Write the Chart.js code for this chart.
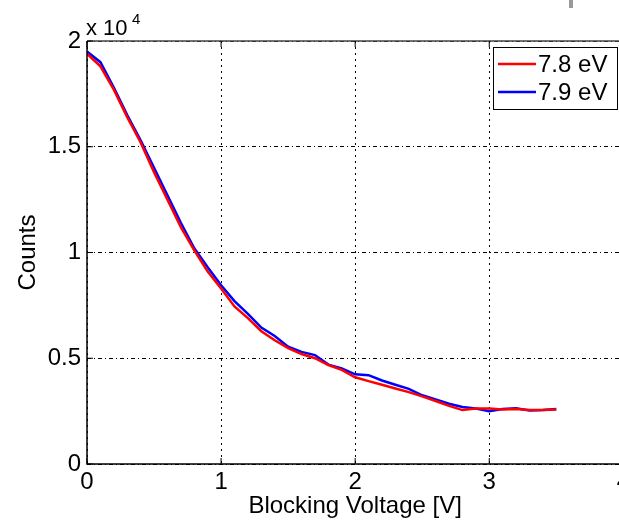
<!DOCTYPE html>
<html>
<head>
<meta charset="utf-8">
<script src="https://cdn.jsdelivr.net/npm/chart.js@4.4.1/dist/chart.umd.min.js"></script>
<style>
html, body { margin: 0; padding: 0; overflow: hidden; background: #fff; }
#wrap { position: relative; width: 634px; height: 521px; }
</style>
</head>
<body>
<div id="wrap"><canvas id="c" width="634" height="521"></canvas></div>
<script>
// blocking voltage [V]
const volts = [0, 0.1, 0.2, 0.3, 0.4, 0.5, 0.6, 0.7, 0.8, 0.9, 1.0, 1.1, 1.2, 1.3, 1.4, 1.5, 1.6, 1.7,
    1.8, 1.9, 2.0, 2.1, 2.2, 2.3, 2.4, 2.5, 2.6, 2.7, 2.8, 2.9, 3.0, 3.1, 3.2, 3.3, 3.4, 3.5];
const counts78 = [19400, 18800, 17700, 16400, 15200, 13800, 12500, 11200, 10100, 9100, 8300, 7450, 6900,
    6280, 5850, 5480, 5200, 5000, 4680, 4450, 4100, 3920, 3750, 3570, 3400, 3200, 2980, 2750, 2550,
    2620, 2620, 2580, 2600, 2550, 2550, 2580];
const counts79 = [19500, 19000, 17800, 16500, 15300, 14000, 12700, 11400, 10200, 9300, 8450, 7700, 7100,
    6450, 6050, 5550, 5300, 5150, 4700, 4520, 4240, 4200, 3950, 3750, 3550, 3250, 3050, 2850, 2700,
    2620, 2500, 2600, 2630, 2530, 2550, 2600];
const labels = ['7.8 eV', '7.9 eV'];
const colors = ['#ff0000', '#0000ff'];
const xTicks = [0, 1, 2, 3, 4];
const yTicks = [0, 5000, 10000, 15000, 20000];

const FONT = '"Liberation Sans", Arial, Helvetica, sans-serif';

const pts = arr => volts.map((v, i) => ({ x: v, y: arr[i] }));

const matlabAxes = {
    id: 'matlabAxes',
    afterDraw(chart) {
        const ctx = chart.ctx;
        const a = chart.chartArea;
        const xs = chart.scales.x, ys = chart.scales.y;
        ctx.save();
        // frame
        ctx.strokeStyle = '#000';
        ctx.lineWidth = 1.5;
        ctx.beginPath();
        ctx.moveTo(a.left, a.top);
        ctx.lineTo(a.left, a.bottom);
        ctx.lineTo(a.right, a.bottom);
        ctx.stroke();
        ctx.strokeStyle = '#444';
        ctx.beginPath();
        ctx.moveTo(a.left, a.top);
        ctx.lineTo(a.right, a.top);
        ctx.stroke();
        // inward ticks
        ctx.strokeStyle = '#000';
        ctx.lineWidth = 1;
        xTicks.forEach(t => {
            const px = xs.getPixelForValue(t);
            ctx.beginPath();
            ctx.moveTo(px, a.bottom); ctx.lineTo(px, a.bottom - 6);
            ctx.moveTo(px, a.top); ctx.lineTo(px, a.top + 6);
            ctx.stroke();
        });
        yTicks.forEach(t => {
            const py = ys.getPixelForValue(t);
            ctx.beginPath();
            ctx.moveTo(a.left, py); ctx.lineTo(a.left + 6, py);
            ctx.stroke();
        });
        // exponent label
        ctx.fillStyle = '#000';
        ctx.textBaseline = 'alphabetic';
        ctx.textAlign = 'left';
        ctx.font = '22px ' + FONT;
        ctx.fillText('x 10', 86, 35);
        ctx.font = '15px ' + FONT;
        ctx.fillText('4', 132, 24);
        // legend box
        const bx = 493, by = 47, bw = 124, bh = 62;
        ctx.fillStyle = '#fff';
        ctx.fillRect(bx, by, bw, bh);
        ctx.strokeStyle = '#000';
        ctx.lineWidth = 1;
        ctx.strokeRect(bx + 0.5, by + 0.5, bw, bh);
        ctx.font = '24px ' + FONT;
        ctx.textBaseline = 'middle';
        chart.data.datasets.forEach((ds, i) => {
            const ly = by + 17 + i * 28;
            ctx.strokeStyle = ds.borderColor;
            ctx.lineWidth = 2.5;
            ctx.beginPath();
            ctx.moveTo(498, ly); ctx.lineTo(536, ly);
            ctx.stroke();
            ctx.fillStyle = '#000';
            ctx.fillText(ds.label, 538, ly + 1);
        });
        // stray mark at top right
        ctx.fillStyle = '#9a9a9a';
        ctx.fillRect(569, 0, 4, 8);
        ctx.restore();
    }
};

new Chart(document.getElementById('c'), {
    type: 'line',
    data: {
        datasets: [
            { label: labels[0], data: pts(counts78), borderColor: colors[0], borderWidth: 2.5, pointRadius: 0, tension: 0 },
            { label: labels[1], data: pts(counts79), borderColor: colors[1], borderWidth: 2.5, pointRadius: 0, tension: 0 }
        ]
    },
    options: {
        responsive: false,
        animation: false,
        layout: { padding: { top: 41, right: 0, left: 0, bottom: 0 } },
        plugins: { legend: { display: false }, tooltip: { enabled: false } },
        scales: {
            x: {
                type: 'linear', min: 0, max: 4,
                afterBuildTicks: s => { s.ticks = xTicks.map(v => ({ value: v })); },
                afterFit: s => { s.height = 57; },
                ticks: { color: '#000', font: { size: 24, family: FONT }, padding: 4, maxRotation: 0, callback: v => v },
                grid: { color: '#000', lineWidth: 1, drawTicks: false },
                border: { display: false, dash: [2, 4] },
                title: { display: true, text: 'Blocking Voltage [V]', color: '#000', font: { size: 24, family: FONT }, padding: { top: 0, bottom: 0 } }
            },
            y: {
                type: 'linear', min: 0, max: 20000,
                afterBuildTicks: s => { s.ticks = yTicks.map(v => ({ value: v })); },
                afterFit: s => { s.width = 87; },
                ticks: { color: '#000', font: { size: 24, family: FONT }, padding: 6, callback: v => v / 10000 },
                grid: { color: '#000', lineWidth: 1, drawTicks: false },
                border: { display: false, dash: [4, 3, 1, 3] },
                title: { display: true, text: 'Counts', color: '#000', font: { size: 24, family: FONT }, padding: { top: 14, bottom: 0 } }
            }
        }
    },
    plugins: [matlabAxes]
});
</script>
</body>
</html>
